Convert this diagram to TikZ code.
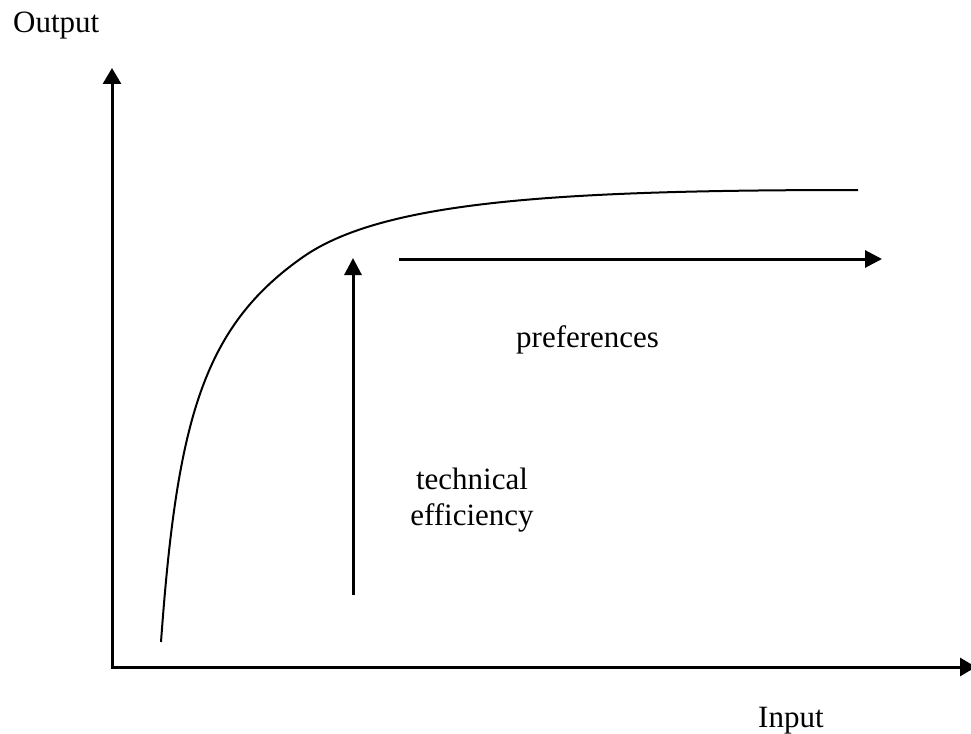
\documentclass[tikz,border=0pt]{standalone}
\usepackage{fontspec}
\setmainfont{Liberation Serif}
\usetikzlibrary{arrows.meta}
\tikzset{
  lbl/.style={inner sep=0pt, font=\fontsize{31}{36}\selectfont},
  axis/.style={line width=3pt, {Triangle[length=16pt,width=18pt]}-{Triangle[length=16pt,width=18pt]}},
  arr/.style={line width=3pt, -{Triangle[length=17pt,width=17pt]}},
  curve/.style={line width=2pt}
}
\begin{document}
\begin{tikzpicture}[x=1pt,y=-1pt]
\useasboundingbox (0,0) rectangle (971,733);
% axes
\coordinate (O) at (112,667);
\coordinate (ytip) at (112,68);
\coordinate (xtip) at (976,667);
\draw[axis] (ytip) -- (O) -- (xtip);
% labels
\node[lbl, anchor=base west] (out) at (13,33) {Output};
\node[lbl, anchor=base west] (in) at (758,727) {Input};
% curve
\coordinate (c0) at (161,642);
\coordinate (c1) at (303,257);
\coordinate (c2) at (858,190);
\draw[curve] (c0) .. controls (177,420) and (203,327) .. (c1)
                  .. controls (383,201) and (558,190) .. (c2);
% arrows
\coordinate (va1) at (353,595);
\coordinate (va2) at (353,258);
\draw[arr] (va1) -- (va2);
\coordinate (ha1) at (399,259);
\coordinate (ha2) at (882,259);
\draw[arr] (ha1) -- (ha2);
% texts
\node[lbl, anchor=base west] (pref) at (516,347) {preferences};
\node[lbl, anchor=base] (te1) at (472,489) {technical};
\node[lbl, anchor=base] (te2) at (472,525) {efficiency};
\end{tikzpicture}
\end{document}
